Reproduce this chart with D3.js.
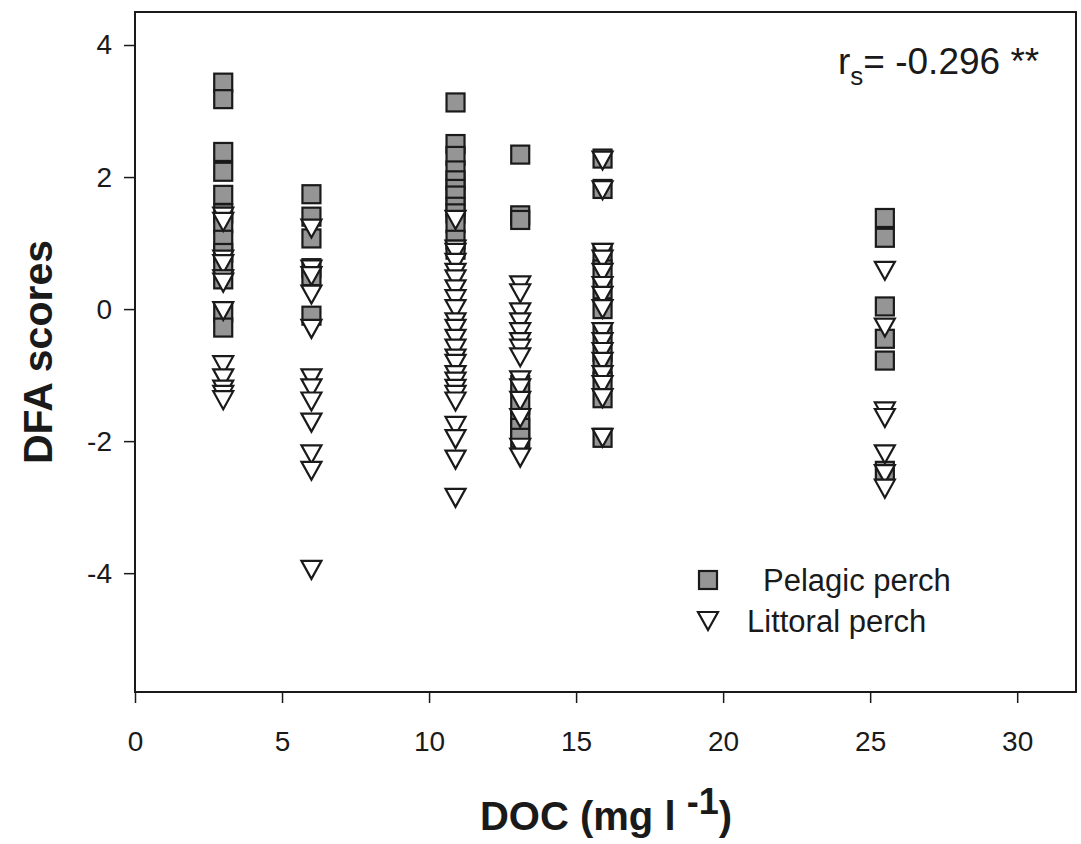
<!DOCTYPE html>
<html>
<head>
<meta charset="utf-8">
<script src="https://cdn.jsdelivr.net/npm/d3@7"></script>
<style>
  html, body { margin: 0; padding: 0; background: #fff; }
  svg { display: block; font-family: "Liberation Sans", Arial, sans-serif; }
</style>
</head>
<body>
<svg id="chart" width="1081" height="844"></svg>
<script>
// ---- data ----
const docLevels = [3.0, 6.0, 10.9, 13.1, 15.9, 25.5];

const pelagicScores = [
  [3.43, 3.18, 2.38, 2.08, 1.73, 1.45, 1.3, 1.05, 0.85, 0.65, 0.45, -0.05, -0.28],
  [1.74, 1.4, 1.07, 0.62, 0.5, -0.1],
  [3.13, 2.5, 2.32, 2.1, 1.95, 1.82, 1.72, 1.55, 1.45, 1.3, 1.05, 0.9],
  [2.34, 1.42, 1.35, -1.15, -1.45, -1.65, -1.8, -1.95],
  [2.28, 1.82, 0.85, 0.6, 0.3, 0.0, -0.4, -0.65, -0.85, -1.1, -1.35, -1.95],
  [1.38, 1.08, 0.04, -0.45, -0.78, -2.45]
];

const littoralScores = [
  [1.4, 1.32, 0.75, 0.68, 0.45, 0.4, -0.03, -0.85, -1.05, -1.22, -1.3, -1.38],
  [1.22, 0.6, 0.5, 0.22, -0.3, -1.05, -1.2, -1.4, -1.72, -2.2, -2.45, -3.95],
  [1.35, 0.9, 0.85, 0.7, 0.55, 0.45, 0.3, 0.15, 0.0, -0.2, -0.3, -0.45, -0.6, -0.75, -0.83, -1.0, -1.1, -1.21, -1.3, -1.4, -1.77, -1.97, -2.28, -2.86],
  [0.36, 0.24, -0.05, -0.2, -0.35, -0.5, -0.6, -0.73, -1.08, -1.2, -1.39, -1.65, -2.1, -2.25],
  [2.25, 1.8, 0.85, 0.75, 0.55, 0.35, 0.2, 0.0, -0.35, -0.5, -0.65, -0.8, -1.0, -1.15, -1.35, -1.95],
  [0.58, -0.28, -1.55, -1.65, -2.2, -2.5, -2.72]
];

const xTicks = [0, 5, 10, 15, 20, 25, 30];
const yTicks = [4, 2, 0, -2, -4];
const seriesNames = ["Pelagic perch", "Littoral perch"];
const annotation = { r: "r", sub: "s", rest: "= -0.296 **" };

// ---- build point tables ----
const pelagicPts = [];
const littoralPts = [];
docLevels.forEach((d, i) => {
  pelagicScores[i].forEach(v => pelagicPts.push({ x: d, y: v }));
  littoralScores[i].forEach(v => littoralPts.push({ x: d, y: v }));
});

// ---- layout ----
const svg = d3.select("#chart");
const L = 135, R = 1076, T = 12, B = 692;

const x = d3.scaleLinear().domain([0, 32]).range([L, R]);
const y = d3.scaleLinear().domain([-5.8, 4.5]).range([B, T]);

const ink = "#1a1a1a";
const fillGray = "#959595";
const fmt = d => String(d); // plain hyphen minus

// frame
svg.append("rect")
  .attr("x", L).attr("y", T)
  .attr("width", R - L).attr("height", B - T)
  .attr("fill", "none").attr("stroke", ink).attr("stroke-width", 2);

// x axis
const xAxis = d3.axisBottom(x).tickValues(xTicks).tickSize(11).tickPadding(28)
  .tickFormat(fmt);
const gx = svg.append("g").attr("transform", `translate(0,${B})`).call(xAxis);
gx.select(".domain").remove();
gx.selectAll(".tick line").attr("stroke", ink).attr("stroke-width", 1.5);
gx.selectAll(".tick text").attr("fill", ink).attr("font-size", 28)
  .attr("font-family", "'Liberation Sans', Arial, sans-serif");

// y axis
const yAxis = d3.axisLeft(y).tickValues(yTicks).tickSize(11).tickPadding(12)
  .tickFormat(fmt);
const gy = svg.append("g").attr("transform", `translate(${L},0)`).call(yAxis);
gy.select(".domain").remove();
gy.selectAll(".tick line").attr("stroke", ink).attr("stroke-width", 1.5);
gy.selectAll(".tick text").attr("fill", ink).attr("font-size", 28)
  .attr("font-family", "'Liberation Sans', Arial, sans-serif");

// markers
const sq = 18;
const triPath = "M-10,-9L10,-9L0,9Z";

svg.append("g").selectAll("rect")
  .data(pelagicPts).join("rect")
  .attr("x", d => x(d.x) - sq / 2)
  .attr("y", d => y(d.y) - sq / 2)
  .attr("width", sq).attr("height", sq)
  .attr("fill", fillGray).attr("stroke", ink).attr("stroke-width", 2.2);

svg.append("g").selectAll("path")
  .data(littoralPts).join("path")
  .attr("d", triPath)
  .attr("transform", d => `translate(${x(d.x)},${y(d.y)})`)
  .attr("fill", "#fff").attr("stroke", ink).attr("stroke-width", 2.2)
  .attr("stroke-linejoin", "miter");

// legend
const lg = svg.append("g");
lg.append("rect")
  .attr("x", 708 - sq / 2).attr("y", 580 - sq / 2)
  .attr("width", sq).attr("height", sq)
  .attr("fill", fillGray).attr("stroke", ink).attr("stroke-width", 2.2);
lg.append("text").attr("x", 763).attr("y", 591)
  .attr("font-size", 31).attr("fill", ink).text(seriesNames[0]);
lg.append("path").attr("d", triPath)
  .attr("transform", "translate(708,621)")
  .attr("fill", "#fff").attr("stroke", ink).attr("stroke-width", 2.2);
lg.append("text").attr("x", 747).attr("y", 632)
  .attr("font-size", 31).attr("fill", ink).text(seriesNames[1]);

// annotation
const ann = svg.append("text").attr("x", 838).attr("y", 74)
  .attr("font-size", 37).attr("fill", ink);
ann.append("tspan").text(annotation.r);
ann.append("tspan").attr("font-size", 26).attr("dy", 11).text(annotation.sub);
ann.append("tspan").attr("dy", -11).text(annotation.rest);

// axis titles
const xt = svg.append("text").attr("x", 606).attr("y", 830)
  .attr("text-anchor", "middle").attr("font-size", 40).attr("font-weight", "bold")
  .attr("fill", ink);
xt.append("tspan").text("DOC (mg l ");
xt.append("tspan").attr("dy", -16).attr("font-size", 36).text("-1");
xt.append("tspan").attr("dy", 16).text(")");

svg.append("text")
  .attr("transform", `translate(52,352) rotate(-90)`)
  .attr("text-anchor", "middle").attr("font-size", 41).attr("font-weight", "bold")
  .attr("fill", ink).text("DFA scores");
</script>
</body>
</html>
